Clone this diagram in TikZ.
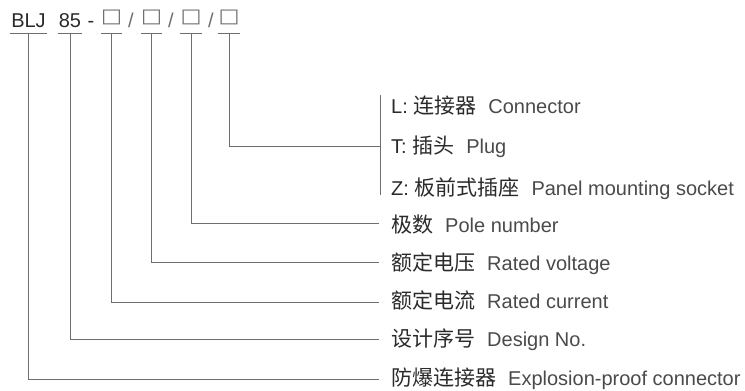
\documentclass[tikz,border=0pt]{standalone}
\usepackage{fontspec}
\setmainfont{Liberation Sans}
\newfontfamily\cjkfont{Noto Sans CJK SC}
\newfontfamily\symfont{DejaVu Sans}
\definecolor{txtdark}{HTML}{2A2A2A}
\definecolor{txteng}{HTML}{4A4A4A}
\definecolor{linecol}{HTML}{6E6E6E}
\newcommand{\zh}[1]{{\cjkfont\fontsize{21}{21}\selectfont\color{txtdark}#1}}
\newcommand{\en}[1]{{\color{txteng}#1}}
\newcommand{\lab}[2]{\zh{#1}\hspace{12pt}\en{#2}}
\newcommand{\labk}[3]{{\color{txtdark}#1}\ \zh{#2}\hspace{12pt}\en{#3}}
\newcommand{\sqbox}{\raisebox{4.5pt}{\scalebox{1.2}[1.05]{□}}}
\tikzset{
  code/.style={anchor=base, inner sep=0pt, font=\fontsize{20}{20}\selectfont, text=txtdark},
  boxcode/.style={code, font=\symfont\fontsize{18.5}{18.5}\selectfont, text=linecol},
  sepcode/.style={code, text=linecol},
  lbl/.style={anchor=base west, inner sep=0pt, font=\fontsize{20}{20}\selectfont},
  conn/.style={draw=linecol, line width=0.9pt},
}
\begin{document}
\begin{tikzpicture}[x=1pt,y=-1pt]
\useasboundingbox (0,0) rectangle (745,391);
% code line
\node[code, minimum width=37pt] (blj) at (28.5,27) {BLJ};
\node[code, minimum width=24pt] (n85) at (70,27) {85};
\node[code] (dash) at (91,27) {-};
\node[boxcode, minimum width=18pt] (b1) at (111.5,27) {\sqbox};
\node[sepcode] (s1) at (131,27) {/};
\node[boxcode, minimum width=18pt] (b2) at (151.5,27) {\sqbox};
\node[sepcode] (s2) at (171,27) {/};
\node[boxcode, minimum width=18pt] (b3) at (191,27) {\sqbox};
\node[sepcode] (s3) at (211,27) {/};
\node[boxcode, minimum width=20pt] (b4) at (229,27) {\sqbox};
% underlines
\foreach \n in {blj,n85,b1,b2,b3,b4}
  \draw[conn] ([yshift=-6pt]\n.base west) -- ([yshift=-6pt]\n.base east);
% labels
\node[lbl] (lL) at (391,113) {\labk{L:}{连接器}{Connector}};
\node[lbl] (lT) at (391,153) {\labk{T:}{插头}{Plug}};
\node[lbl] (lZ) at (391,195) {\labk{Z:}{板前式插座}{Panel mounting socket}};
\node[lbl] (lpole) at (391,232) {\lab{极数}{Pole number}};
\node[lbl] (lvolt) at (391,270) {\lab{额定电压}{Rated voltage}};
\node[lbl] (lcur) at (391,308) {\lab{额定电流}{Rated current}};
\node[lbl] (ldes) at (391,346) {\lab{设计序号}{Design No.}};
\node[lbl] (lexp) at (391,385) {\lab{防爆连接器}{Explosion-proof connector}};
% bracket
\coordinate (brtop) at (380,95);
\coordinate (brbot) at (380,195);
\draw[conn] (brtop) -- (brbot);
% connectors
\draw[conn] ([yshift=-6pt]b4.base) |- ([xshift=-11pt,yshift=7pt]lT.base west);
\draw[conn] ([yshift=-6pt]b3.base) |- ([xshift=-12pt,yshift=9pt]lpole.base west);
\draw[conn] ([yshift=-6pt]b2.base) |- ([xshift=-12pt,yshift=8pt]lvolt.base west);
\draw[conn] ([yshift=-6pt]b1.base) |- ([xshift=-12pt,yshift=6pt]lcur.base west);
\draw[conn] ([yshift=-6pt]n85.base) |- ([xshift=-12pt,yshift=7pt]ldes.base west);
\draw[conn] ([yshift=-6pt]blj.base) |- ([xshift=-12pt,yshift=6pt]lexp.base west);
\end{tikzpicture}
\end{document}
